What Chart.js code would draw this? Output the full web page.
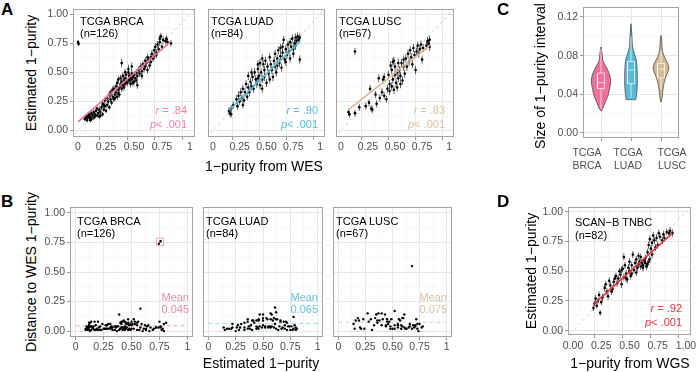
<!DOCTYPE html>
<html>
<head>
<meta charset="utf-8">
<script src="https://cdn.jsdelivr.net/npm/chart.js@4.4.1/dist/chart.umd.min.js"></script>
<style>
  body { margin: 0; width: 696px; height: 372px; position: relative; overflow: hidden; background: #fff;
         font-family: 'Liberation Sans', Arial, Helvetica, sans-serif; }
  canvas { position: absolute; }
  .t { position: absolute; white-space: nowrap; line-height: 1; z-index: 5; }
</style>
</head>
<body>
<script>
// [1-purity from WES/WGS, estimated 1-purity, half interval]
const brca = [
  [0.00,0.76,.02],[0.005,0.745,.02],
  [0.06,0.10,.02],[0.07,0.12,.02],[0.08,0.09,.02],[0.08,0.11,.02],[0.09,0.13,.02],[0.10,0.11,.02],[0.10,0.14,.025],[0.11,0.12,.02],
  [0.11,0.09,.02],[0.12,0.15,.02],[0.12,0.10,.02],[0.13,0.13,.02],[0.14,0.16,.025],[0.14,0.11,.02],[0.15,0.12,.02],[0.15,0.14,.02],
  [0.16,0.17,.02],[0.17,0.13,.02],[0.17,0.19,.02],[0.18,0.15,.02],[0.19,0.18,.025],[0.19,0.12,.02],[0.20,0.16,.02],[0.20,0.13,.02],
  [0.21,0.20,.025],[0.22,0.14,.02],[0.22,0.23,.025],[0.23,0.18,.02],[0.23,0.22,.025],[0.24,0.26,.03],[0.24,0.21,.025],[0.25,0.17,.02],
  [0.26,0.28,.03],[0.26,0.22,.025],[0.27,0.25,.025],[0.28,0.31,.03],[0.28,0.20,.02],[0.29,0.27,.025],[0.29,0.32,.03],[0.30,0.33,.03],
  [0.30,0.24,.025],[0.31,0.29,.025],[0.31,0.35,.03],[0.32,0.36,.03],[0.32,0.27,.025],[0.33,0.31,.025],[0.33,0.28,.025],[0.34,0.38,.03],
  [0.34,0.33,.03],[0.35,0.29,.025],[0.35,0.41,.03],[0.36,0.35,.03],[0.36,0.44,.03],[0.36,0.32,.03],[0.37,0.37,.03],[0.37,0.31,.025],
  [0.38,0.40,.03],[0.38,0.45,.03],[0.45,0.53,.035],[0.39,0.36,.03],[0.39,0.42,.03],[0.39,0.58,.035],[0.40,0.39,.03],[0.40,0.47,.03],
  [0.41,0.37,.03],[0.41,0.43,.03],[0.42,0.40,.03],[0.42,0.45,.03],[0.42,0.50,.03],[0.43,0.42,.03],[0.43,0.48,.03],[0.44,0.41,.03],
  [0.48,0.55,.035],[0.45,0.44,.03],[0.45,0.50,.03],[0.46,0.43,.03],[0.46,0.47,.03],[0.47,0.45,.03],[0.47,0.40,.03],[0.48,0.49,.03],
  [0.48,0.44,.03],[0.49,0.46,.03],[0.49,0.41,.03],[0.50,0.42,.03],[0.50,0.48,.03],[0.51,0.45,.03],[0.52,0.50,.03],[0.52,0.43,.03],
  [0.53,0.47,.03],[0.53,0.39,.03],[0.54,0.52,.03],[0.55,0.49,.03],[0.56,0.55,.03],[0.57,0.51,.03],[0.57,0.47,.03],[0.58,0.57,.03],
  [0.59,0.53,.03],[0.60,0.60,.03],[0.60,0.55,.03],[0.61,0.58,.03],[0.62,0.52,.03],[0.62,0.63,.03],[0.63,0.61,.03],[0.64,0.56,.03],
  [0.65,0.63,.03],[0.65,0.59,.03],[0.66,0.66,.03],[0.67,0.62,.03],[0.68,0.69,.03],[0.68,0.64,.03],[0.69,0.72,.03],[0.70,0.67,.03],
  [0.70,0.65,.03],[0.71,0.74,.03],[0.72,0.70,.03],[0.73,0.79,.03],[0.73,0.76,.03],[0.74,0.81,.03],[0.75,0.72,.03],[0.76,0.78,.03],
  [0.78,0.77,.03],[0.79,0.79,.03],[0.80,0.76,.03],[0.83,0.75,.03]
];
const luad = [
  [0.15,0.17,.03],[0.16,0.15,.03],[0.17,0.19,.03],[0.17,0.14,.03],[0.19,0.22,.03],[0.22,0.27,.035],[0.23,0.21,.03],[0.24,0.30,.035],
  [0.25,0.25,.03],[0.26,0.33,.035],[0.27,0.28,.03],[0.28,0.36,.035],[0.28,0.22,.03],[0.29,0.26,.03],[0.30,0.33,.035],[0.31,0.40,.035],
  [0.32,0.29,.03],[0.33,0.37,.035],[0.33,0.47,.035],[0.34,0.33,.035],[0.35,0.42,.035],[0.36,0.50,.035],[0.36,0.38,.035],[0.37,0.46,.035],
  [0.42,0.57,.035],[0.38,0.36,.035],[0.39,0.50,.035],[0.46,0.62,.035],[0.40,0.44,.035],[0.41,0.40,.035],[0.42,0.53,.035],[0.42,0.45,.035],
  [0.43,0.47,.035],[0.44,0.58,.035],[0.44,0.39,.035],[0.45,0.50,.035],[0.46,0.44,.035],[0.46,0.36,.035],[0.47,0.57,.035],[0.48,0.52,.035],
  [0.48,0.46,.035],[0.49,0.60,.035],[0.50,0.41,.035],[0.51,0.55,.035],[0.52,0.49,.035],[0.53,0.63,.035],[0.53,0.44,.035],[0.54,0.57,.035],
  [0.55,0.52,.035],[0.56,0.46,.035],[0.57,0.60,.035],[0.58,0.66,.035],[0.58,0.55,.035],[0.59,0.50,.035],[0.60,0.62,.035],[0.60,0.56,.035],
  [0.61,0.69,.035],[0.62,0.58,.035],[0.63,0.64,.035],[0.63,0.71,.035],[0.64,0.54,.035],[0.65,0.72,.035],[0.65,0.67,.035],[0.66,0.78,.035],
  [0.67,0.61,.035],[0.68,0.70,.035],[0.68,0.59,.035],[0.69,0.65,.035],[0.70,0.74,.035],[0.71,0.68,.035],[0.72,0.76,.035],[0.72,0.62,.035],
  [0.73,0.72,.035],[0.74,0.79,.035],[0.75,0.70,.035],[0.75,0.66,.035],[0.76,0.75,.035],[0.77,0.80,.035],[0.77,0.73,.035],[0.78,0.77,.035],
  [0.79,0.81,.035],[0.80,0.78,.035],[0.81,0.61,.035],[0.81,0.80,.035]
];
const lusc = [
  [0.13,0.68,.03],[0.07,0.16,.03],[0.08,0.14,.03],[0.13,0.15,.03],[0.17,0.20,.03],[0.23,0.21,.03],[0.26,0.24,.03],[0.27,0.36,.035],
  [0.28,0.19,.03],[0.29,0.18,.03],[0.32,0.31,.03],[0.33,0.23,.03],[0.35,0.45,.035],[0.36,0.28,.03],[0.38,0.33,.035],[0.39,0.44,.035],
  [0.40,0.46,.035],[0.40,0.30,.03],[0.42,0.27,.03],[0.43,0.36,.035],[0.44,0.48,.035],[0.45,0.40,.035],[0.45,0.34,.035],[0.46,0.56,.035],
  [0.47,0.52,.035],[0.47,0.38,.035],[0.48,0.59,.035],[0.48,0.44,.035],[0.49,0.60,.035],[0.49,0.35,.035],[0.50,0.48,.035],[0.50,0.55,.035],
  [0.51,0.41,.035],[0.52,0.50,.035],[0.52,0.37,.035],[0.53,0.45,.035],[0.53,0.58,.035],[0.54,0.52,.035],[0.55,0.40,.035],[0.55,0.47,.035],
  [0.56,0.58,.035],[0.57,0.43,.035],[0.58,0.55,.035],[0.58,0.61,.035],[0.59,0.49,.035],[0.60,0.62,.035],[0.61,0.55,.035],[0.62,0.66,.035],
  [0.63,0.59,.035],[0.64,0.69,.035],[0.65,0.63,.035],[0.66,0.57,.035],[0.67,0.71,.035],[0.68,0.65,.035],[0.69,0.52,.035],[0.70,0.68,.035],
  [0.71,0.73,.035],[0.72,0.66,.035],[0.73,0.70,.035],[0.74,0.74,.035],[0.75,0.61,.035],[0.76,0.71,.035],[0.79,0.73,.035],[0.80,0.77,.035],
  [0.81,0.75,.035],[0.82,0.78,.035],[0.82,0.72,.035]
];
const tnbc = [
  [0.18,0.19,.025],[0.19,0.23,.025],[0.20,0.27,.03],[0.21,0.21,.025],[0.22,0.25,.025],[0.23,0.30,.03],[0.24,0.15,.025],[0.25,0.24,.025],
  [0.26,0.28,.03],[0.28,0.36,.03],[0.29,0.39,.03],[0.30,0.33,.03],[0.31,0.29,.03],[0.32,0.42,.03],[0.33,0.38,.03],[0.34,0.33,.03],
  [0.35,0.35,.03],[0.36,0.41,.03],[0.37,0.44,.03],[0.38,0.46,.03],[0.39,0.40,.03],[0.40,0.44,.03],[0.41,0.50,.03],[0.42,0.47,.03],
  [0.43,0.39,.03],[0.43,0.51,.03],[0.44,0.52,.03],[0.45,0.45,.03],[0.45,0.62,.03],[0.46,0.55,.03],[0.47,0.48,.03],[0.47,0.44,.03],
  [0.48,0.43,.03],[0.49,0.53,.03],[0.50,0.50,.03],[0.50,0.58,.03],[0.51,0.46,.03],[0.52,0.55,.03],[0.52,0.48,.03],[0.53,0.64,.03],
  [0.54,0.51,.03],[0.55,0.57,.03],[0.56,0.60,.03],[0.56,0.49,.03],[0.57,0.53,.03],[0.58,0.56,.03],[0.58,0.63,.03],[0.59,0.58,.03],
  [0.60,0.54,.03],[0.60,0.62,.03],[0.61,0.57,.03],[0.62,0.55,.03],[0.62,0.53,.03],[0.63,0.59,.03],[0.64,0.57,.03],[0.64,0.61,.03],
  [0.65,0.54,.03],[0.66,0.56,.03],[0.66,0.66,.03],[0.67,0.58,.03],[0.67,0.72,.03],[0.68,0.60,.03],[0.68,0.77,.03],[0.69,0.69,.03],
  [0.70,0.74,.03],[0.70,0.64,.03],[0.71,0.80,.03],[0.72,0.76,.03],[0.73,0.70,.03],[0.74,0.78,.03],[0.75,0.72,.03],[0.76,0.82,.03],
  [0.77,0.79,.03],[0.79,0.76,.03],[0.80,0.81,.03],[0.81,0.78,.03],[0.83,0.83,.03],[0.85,0.82,.03],[0.86,0.84,.03],[0.88,0.82,.03]
];

// fitted lines (start, end)
const fitBrca = [[0.00, 0.075], [0.83, 0.768]];
const fitLuad = [[0.15, 0.175], [0.81, 0.765]];
const fitLusc = [[0.065, 0.175], [0.82, 0.73]];
const fitTnbc = [[0.18, 0.22], [0.88, 0.82]];
const identity = [-0.1, 1.1];

// mean distance per cohort, and the flagged outlier in BRCA
const meanDist = [0.045, 0.065, 0.075];
const meanSpan = [0, 1];
const flagged = [[0.755, 0.755]];

// violins: interval size levels and half widths (category units)
const cohorts = [['TCGA', 'BRCA'], ['TCGA', 'LUAD'], ['TCGA', 'LUSC']];
const vioY = [
  [0.0228, 0.0258, 0.031, 0.0376, 0.0445, 0.0548, 0.0634, 0.0686, 0.0755, 0.082, 0.089],
  [0.0345, 0.0346, 0.0376, 0.048, 0.06, 0.0686, 0.0755, 0.0824, 0.089, 0.1, 0.113],
  [0.032, 0.0359, 0.0427, 0.0514, 0.0583, 0.0634, 0.0686, 0.0738, 0.079, 0.0859, 0.095, 0.101]
];
const vioW = [
  [0, .067, .133, .223, .277, .323, .25, .167, .057, .04, 0],
  [0, .157, .177, .207, .21, .2, .177, .11, .05, .033, 0],
  [0, .033, .057, .1, .167, .233, .26, .193, .11, .043, .027, 0]
];
// [lower whisker, q1, median, q3, upper whisker]
const boxStats = [
  [0.025, 0.046, 0.052, 0.062, 0.087],
  [0.036, 0.051, 0.065, 0.074, 0.100],
  [0.045, 0.057, 0.066, 0.072, 0.085]
];

const FONT = "'Liberation Sans', Arial, Helvetica, sans-serif";
const PINK = '#F0709B', BLUE = '#55B6D2', TAN = '#D6BA96', RED = '#E3363C';
const TXT = '#4D4D4D';

function isMajor(v, m) { const q = v / m; return Math.abs(q - Math.round(q)) < 1e-6; }
const tickMajor = (c, m) => !!(c.tick && isMajor(c.tick.value, m));

function linAxis(min, max, step, major, fmt, show, isX, size, pad) {
  return {
    type: 'linear', min, max, offset: false,
    grid: {
      color: c => tickMajor(c, major) ? '#E6E6E6' : '#F3F3F3',
      lineWidth: c => tickMajor(c, major) ? 1 : 0.6,
      drawTicks: show, tickLength: 3,
      tickColor: c => tickMajor(c, major) ? '#9A9A9A' : 'rgba(0,0,0,0)'
    },
    border: { display: false },
    ticks: {
      display: show, stepSize: step, includeBounds: false, autoSkip: false,
      maxRotation: 0, minRotation: 0, padding: pad, color: TXT,
      font: { family: FONT, size: 10.5 },
      callback: v => isMajor(v, major) ? fmt(v) : ''
    },
    afterFit: s => {
      if (isX) { s.height = size; s.paddingLeft = 0; s.paddingRight = 0; }
      else { s.width = size; s.paddingTop = 0; s.paddingBottom = 0; }
    }
  };
}

const frame = {
  id: 'frame',
  afterDatasetsDraw(ch) {
    const a = ch.chartArea, ctx = ch.ctx;
    ctx.save();
    ctx.strokeStyle = '#A3A3A3';
    ctx.lineWidth = 1;
    ctx.strokeRect(a.left + 0.5, a.top + 0.5, a.right - a.left - 1, a.bottom - a.top - 1);
    ctx.restore();
  }
};

const PT = 8, PR = 14;
function panel(box, yW, xH, scales, datasets) {
  const c = document.createElement('canvas');
  const w = box[2] - box[0] + yW + PR, h = box[3] - box[1] + xH + PT;
  c.width = w; c.height = h;
  c.style.left = (box[0] - yW) + 'px';
  c.style.top = (box[1] - PT) + 'px';
  document.body.appendChild(c);
  new Chart(c, {
    type: 'scatter',
    data: { datasets },
    options: {
      responsive: false, animation: false, events: [],
      layout: { padding: { top: PT, right: PR, left: 0, bottom: 0 } },
      plugins: { legend: { display: false }, tooltip: { enabled: false } },
      scales
    },
    plugins: [frame]
  });
}

const fmtShort = v => (Math.abs(v) < 1e-9 ? '0' : Math.abs(v - 1) < 1e-9 ? '1' : v.toFixed(2));
const fmt2 = v => v.toFixed(2);

function diagSet() {
  return { type: 'line', data: identity.map(v => ({ x: v, y: v })), borderColor: '#C4C4C4',
           borderDash: [3, 3], borderWidth: 0.8, pointRadius: 0, order: 6 };
}
function purSets(pts, fit, col) {
  return [
    diagSet(),
    { type: 'bar', data: pts.map(p => ({ x: p[0], y: [p[1] - p[2], p[1] + p[2]] })),
      backgroundColor: '#3C3C3C', barThickness: 0.8, inflateAmount: 0, grouped: false, order: 5 },
    { type: 'scatter', data: pts.map(p => ({ x: p[0], y: p[1] })), pointRadius: 1.3,
      backgroundColor: '#000', borderWidth: 0, order: 4 },
    { type: 'line', data: fit.map(p => ({ x: p[0], y: p[1] })), borderColor: col,
      borderWidth: 1.6, pointRadius: 0, order: 2 }
  ];
}
function distSets(pts, mean, col, extra) {
  const sets = [
    { type: 'line', data: meanSpan.map(x => ({ x, y: mean })), borderColor: col,
      borderDash: [4, 3], borderWidth: 1, pointRadius: 0, order: 5 },
    { type: 'scatter', data: pts.map(p => ({ x: p[1], y: Math.abs(p[1] - p[0]) })),
      pointRadius: 1.2, backgroundColor: '#000', borderWidth: 0, order: 3 }
  ];
  if (extra) sets.push(extra);
  return sets;
}

// Panel A
const aY = (show) => linAxis(-0.055, 1.045, 0.125, 0.25, fmt2, show, false, show ? 30 : 0, 2);
const aX = () => linAxis(-0.045, 1.045, 0.125, 0.25, fmtShort, true, true, 22, 1);
panel([73, 9, 195, 137], 30, 22, { x: aX(), y: aY(true) }, purSets(brca, fitBrca, PINK));
panel([204, 9, 325, 137], 0, 22, { x: aX(), y: aY(false) }, purSets(luad, fitLuad, BLUE));
panel([332, 9, 454, 137], 0, 22, { x: aX(), y: aY(false) }, purSets(lusc, fitLusc, TAN));

// Panel B
const bY = (show) => linAxis(-0.05, 1.05, 0.125, 0.25, fmt2, show, false, show ? 30 : 0, 2);
const bX = () => linAxis(-0.05, 1.05, 0.125, 0.25, fmtShort, true, true, 22, 0.5);
panel([70, 207, 193, 337], 30, 22, { x: bX(), y: bY(true) },
  distSets(brca, meanDist[0], '#F3A2BE', {
    type: 'scatter', data: flagged.map(p => ({ x: p[0], y: p[1] })), pointStyle: 'rect',
    pointRadius: 5.2, backgroundColor: 'rgba(0,0,0,0)', borderColor: '#F0A0BB', borderWidth: 1, order: 1
  }));
panel([199, 207, 323, 337], 0, 22, { x: bX(), y: bY(false) }, distSets(luad, meanDist[1], '#9DD5E5'));
panel([329, 207, 452, 337], 0, 22, { x: bX(), y: bY(false) }, distSets(lusc, meanDist[2], '#E2CFB7'));

// Panel C
const vioFill = [PINK, '#5BBBD6', TAN];
const cSets = [];
const BOXW = 0.117;
vioY.forEach((ys, g) => {
  const cx = g + 1, w = vioW[g];
  const right = ys.map((y, i) => ({ x: cx + w[i], y }));
  const left = ys.map((y, i) => ({ x: cx - w[i], y })).reverse();
  cSets.push({ type: 'line', data: right.concat(left), fill: 'shape', backgroundColor: vioFill[g],
               borderColor: '#3A3A3A', borderWidth: 0.7, pointRadius: 0, tension: 0.3, order: 5 });
  const [lo, q1, med, q3, hi] = boxStats[g];
  const wl = { type: 'line', borderColor: 'rgba(255,255,255,0.85)', borderWidth: 0.8, pointRadius: 0, order: 2 };
  cSets.push({ ...wl, data: [{ x: cx, y: lo }, { x: cx, y: q1 }] });
  cSets.push({ ...wl, data: [{ x: cx, y: q3 }, { x: cx, y: hi }] });
  cSets.push({ ...wl, data: [{ x: cx - BOXW, y: q1 }, { x: cx + BOXW, y: q1 }, { x: cx + BOXW, y: q3 },
                             { x: cx - BOXW, y: q3 }, { x: cx - BOXW, y: q1 }] });
  cSets.push({ ...wl, data: [{ x: cx - BOXW, y: med }, { x: cx + BOXW, y: med }] });
});
panel([583, 7, 679, 138], 30, 36, {
  x: linAxis(0.4, 3.6, 1, 1, v => '', true, true, 36, 2),
  y: linAxis(-0.0052, 0.1303, 0.02, 0.04, fmt2, true, false, 30, 2)
}, cSets);

// Panel D
panel([568, 207, 691, 335], 30, 22, {
  x: linAxis(-0.045, 1.045, 0.125, 0.25, fmt2, true, true, 22, 2),
  y: linAxis(-0.036, 1.04, 0.125, 0.25, fmt2, true, false, 30, 2)
}, purSets(tnbc, fitTnbc, RED));

// text
function label(html, x, y, o = {}) {
  const d = document.createElement('div');
  d.className = 't';
  d.innerHTML = html;
  const ax = o.align === 'r' ? '-100%' : o.align === 'c' ? '-50%' : '0';
  d.style.left = x + 'px';
  d.style.top = y + 'px';
  d.style.fontSize = (o.size || 11) + 'px';
  d.style.color = o.color || '#000';
  if (o.bold) d.style.fontWeight = 'bold';
  d.style.transform = `translate(${ax},-50%)` + (o.rot ? ' rotate(-90deg)' : '');
  document.body.appendChild(d);
}
label('A', 1, 9, { size: 17, bold: true });
label('B', 1, 201, { size: 17, bold: true });
label('C', 497, 9, { size: 17, bold: true });
label('D', 497, 201, { size: 17, bold: true });

[['TCGA BRCA', '(n=126)', 80], ['TCGA LUAD', '(n=84)', 211], ['TCGA LUSC', '(n=67)', 339]].forEach(t => {
  label(t[0], t[2], 21); label(t[1], t[2], 33);
});
[['.84', 187, '#EE85AA'], ['.90', 318, '#5CBAD6'], ['.83', 445, '#D8C2A6']].forEach(t => {
  label('<i>r</i> = ' + t[0], t[1], 110, { align: 'r', color: t[2] });
  label('<i>p</i>&lt; .001', t[1], 124, { align: 'r', color: t[2] });
});
[['TCGA BRCA', '(n=126)', 77], ['TCGA LUAD', '(n=84)', 206], ['TCGA LUSC', '(n=67)', 336]].forEach(t => {
  label(t[0], t[2], 221); label(t[1], t[2], 233);
});
[[189, '#EE8AAE'], [318, '#6CC0DA'], [447, '#D9C2A5']].forEach((t, i) => {
  label('Mean', t[0], 297, { align: 'r', color: t[1] });
  label(meanDist[i].toFixed(3), t[0], 309, { align: 'r', color: t[1] });
});
label('SCAN\u2212B TNBC', 575, 222);
label('(n=82)', 575, 235);
label('<i>r</i> = .92', 682, 308, { align: 'r', color: RED });
label('<i>p</i>&lt; .001', 682, 322, { align: 'r', color: RED });

// cohort labels under the violins
[587, 628, 672].forEach((x, i) => {
  label(cohorts[i][0], x, 152, { size: 10.5, align: 'c', color: TXT });
  label(cohorts[i][1], x, 165, { size: 10.5, align: 'c', color: TXT });
});

label('Estimated 1\u2212purity', 31, 73, { size: 14, align: 'c', rot: true });
label('1\u2212purity from WES', 264, 166, { size: 14, align: 'c' });
label('Distance to WES 1\u2212purity', 31, 272, { size: 14, align: 'c', rot: true });
label('Estimated 1\u2212purity', 261, 363, { size: 14, align: 'c' });
label('Size of 1\u2212purity interval', 540, 76, { size: 14, align: 'c', rot: true });
label('Estimated 1\u2212purity', 531, 271, { size: 14, align: 'c', rot: true });
label('1\u2212purity from WGS', 630, 363, { size: 14, align: 'c' });
</script>
</body>
</html>
